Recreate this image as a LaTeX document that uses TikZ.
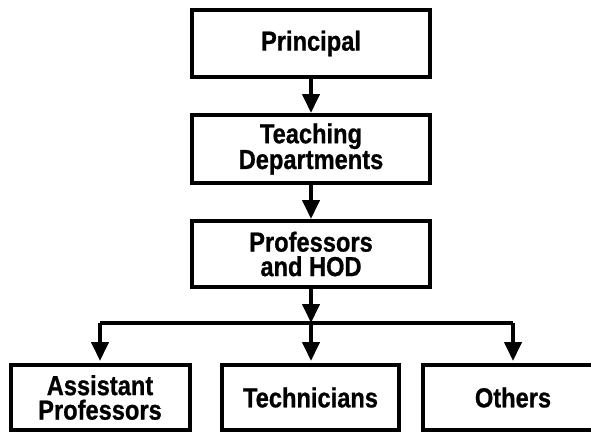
\documentclass[tikz,border=0pt]{standalone}
\usepackage{fontspec}
\newfontfamily\orgfont{Liberation Sans Bold}[FakeStretch=0.86, FakeBold=0.8]
\usetikzlibrary{arrows.meta}
\tikzset{
  box/.style={draw, line width=4pt, inner sep=0pt, align=center,
    font=\orgfont\fontsize{27.5}{24.5}\selectfont},
  conn/.style={line width=4pt},
  arr/.style={line width=4pt, -{Triangle[width=17pt,length=19pt]}}
}
\begin{document}
\begin{tikzpicture}[x=1pt,y=-1pt]
\useasboundingbox[fill=white] (0,0) rectangle (591,432);
\node[box, minimum width=238pt, minimum height=67pt] (prin) at (311,43.5) {Principal};
\node[box, minimum width=238pt, minimum height=68pt] (teach) at (311,149) {Teaching\\Departments};
\node[box, minimum width=238pt, minimum height=66pt] (prof) at (311,254) {Professors\\and HOD};
\node[box, minimum width=179pt, minimum height=65pt] (asst) at (100,397.5) {Assistant\\Professors};
\node[box, minimum width=177pt, minimum height=65pt] (tech) at (310.5,397.5) {Technicians};
\node[box, minimum width=180pt, minimum height=65pt] (oth) at (513,397.5) {Others};
\coordinate (j) at (311,323);
\coordinate (jl) at (asst.north |- j);
\coordinate (jr) at (oth.north |- j);
\draw[arr] (prin) -- (teach);
\draw[arr] (teach) -- (prof);
\draw[arr] (prof) -- (j);
\draw[conn] (jl) -- (jr);
\draw[arr, shorten >=2pt] (jl) -- (asst);
\draw[arr, shorten >=2pt] (j) -- (j |- tech.north);
\draw[arr, shorten >=2pt] (jr) -- (oth);
\end{tikzpicture}
\end{document}
